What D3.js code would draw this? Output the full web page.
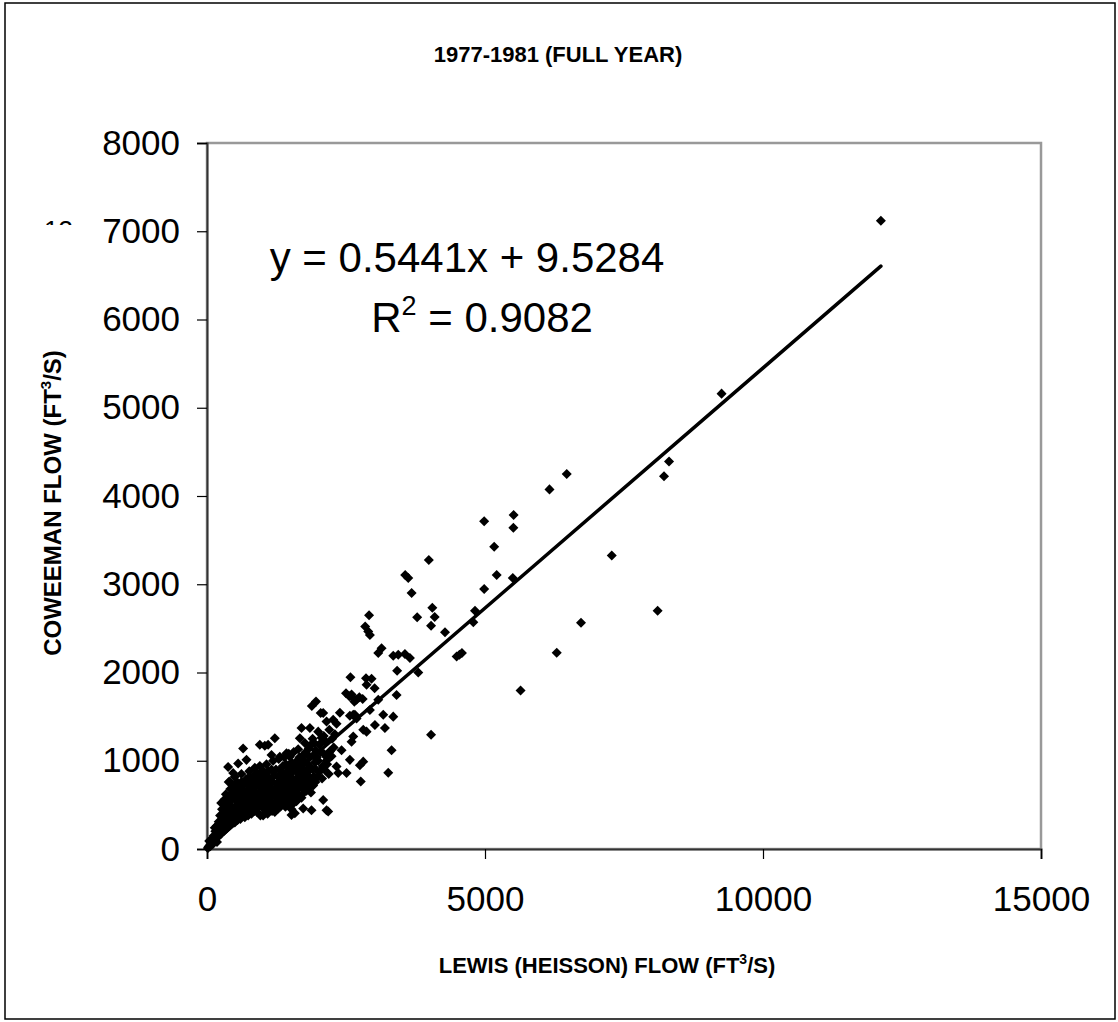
<!DOCTYPE html>
<html>
<head>
<meta charset="utf-8">
<script src="https://cdn.jsdelivr.net/npm/d3@7"></script>
<style>
  body { margin: 0; background: #fff; }
  text { font-family: "Liberation Sans", Arial, sans-serif; }
</style>
</head>
<body>
<svg id="chart" width="1118" height="1022"></svg>
<script>
// scatter of daily flows, Lewis vs Coweeman, 1977-1981
var title = "1977-1981 (FULL YEAR)";
var xTicks = [0, 5000, 10000, 15000];
var yTicks = [0, 1000, 2000, 3000, 4000, 5000, 6000, 7000, 8000];
var slope = 0.5441, intercept = 9.5284, rSquared = "0.9082";

// dense low-flow cluster [lewis, coweeman]
var clusterPoints = [
  [15,10],[30,25],[45,40],[60,30],[70,70],[85,55],[40,90],[95,120],
  [110,60],[120,150],[130,95],[150,200],[160,120],[175,260],[180,80],[140,240],
  [200,140],[210,310],[220,210],[235,380],[250,170],[260,270],[270,450],[280,330],[255,520],
  [300,200],[305,400],[315,560],[320,280],[335,480],[340,620],[350,230],[360,350],[370,530],[375,430],
  [400,260],[405,600],[415,380],[420,680],[430,490],[440,300],[450,560],[455,420],[465,720],[475,350],[480,640],
  [500,300],[505,480],[510,690],[520,580],[530,400],[540,760],[550,330],[555,530],[565,650],[575,450],[580,720],
  [600,340],[605,600],[615,480],[620,760],[630,390],[640,680],[650,550],[660,430],[670,740],[675,620],[680,360],
  [700,500],[705,790],[715,420],[720,660],[730,580],[740,380],[750,720],[760,470],[765,820],[775,640],[780,540],
  [800,400],[805,760],[815,600],[820,480],[830,690],[840,830],[850,430],[855,560],[865,760],[870,650],[880,500],
  [900,420],[905,860],[915,580],[920,720],[930,480],[940,800],[950,640],[960,380],[965,540],[975,700],[980,860],
  [1000,470],[1005,760],[1015,600],[1020,880],[1030,520],[1040,680],[1050,820],[1060,420],[1065,560],[1075,740],[1080,620],
  [1100,480],[1105,880],[1115,700],[1120,580],[1130,800],[1140,440],[1150,650],[1160,900],[1165,530],[1175,760],[1180,620],
  [1200,500],[1205,830],[1215,680],[1220,420],[1230,590],[1240,900],[1250,740],[1260,540],[1265,640],[1275,820],[1280,460],
  [1300,700],[1305,560],[1315,900],[1320,480],[1330,780],[1340,620],[1350,860],[1360,520],[1365,940],[1375,680],[1380,760],
  [1400,560],[1405,830],[1415,700],[1420,960],[1430,620],[1440,500],[1450,880],[1460,760],[1465,660],[1475,560],[1480,920],
  [1500,620],[1505,820],[1515,720],[1520,980],[1530,560],[1540,880],[1550,680],[1560,780],[1565,940],[1575,620],[1580,720],
  [1600,660],[1605,880],[1615,760],[1620,1000],[1630,620],[1640,820],[1650,940],[1660,700],[1665,1040],[1675,780],[1680,880],
  [1700,700],[1705,960],[1715,820],[1720,1060],[1730,760],[1740,900],[1750,1000],[1760,720],[1770,860],[1780,1100],
  [1800,780],[1810,960],[1820,880],[1830,1140],[1840,820],[1850,1040],[1860,920],[1870,1180],[1880,760],
  [1900,900],[1910,1060],[1920,820],[1930,1200],[1940,980],[1950,1120],[1960,900],[1975,1040],
  [2000,1000],[2020,1180],[2040,1100],[2060,1260],[2080,940],[2100,1080],[2130,1220],[2150,1000],
  [1760,1200],[1900,1250],[2000,1330],[2100,1280],[2200,1350],[2250,1250],[2300,1300],[2050,1200],
  [1520,450],[1560,520],[1610,540],[1650,600],[1700,580],[1745,640],[1790,660],[1830,700],[1870,640],
  [1910,720],[1950,760],[1990,820],[2030,880],[2070,800],[2110,900],[2160,960],[2200,1100],[2240,1050],
  [2280,1150],[2190,850],
  [1010,380],[1090,400],[1170,430],[1250,460],[1330,520],[1410,480],[1490,560],
  [950,940],[1070,960],[1190,1000],[1290,1020],[1390,1040],[1470,1080],[1560,1100],[1640,1130],
  [390,760],[500,820],[620,850],[760,880],[860,920]
];

// scattered higher-flow days
var outlierPoints = [
  [12120,7120],[9255,5160],[8310,4390],[8220,4225],[6470,4250],[6160,4075],
  [5515,3785],[5510,3640],[4985,3715],[5165,3425],[5210,3105],[5500,3070],[4985,2945],
  [7280,3325],[6727,2565],[8105,2700],[6290,2225],[5640,1795],[4820,2700],[4790,2570],
  [3990,3275],[3565,3105],[3620,3070],[3680,2900],
  [2915,2650],[2845,2520],[2900,2465],[2930,2425],
  [3780,2627],[4053,2735],[4095,2630],[4030,2530],[4281,2455],
  [4490,2180],[4540,2200],[4585,2220],[3800,2000],[4030,1295],
  [3140,2275],[3080,2220],[3350,2190],[3440,2200],[3560,2210],[3650,2165],
  [3420,2020],[3410,1745],
  [2580,1945],[2860,1935],[2960,1930],[2870,1860],[3015,1822],
  [2600,1750],[2630,1710],[2690,1690],[2740,1720],[2800,1700],[3080,1690],
  [2500,1765],[2560,1730],[2650,1670],
  [1960,1670],[1885,1620],[2045,1540],
  [2090,1540],[2150,1445],[2270,1465],[2330,1420],
  [2390,1545],[2570,1510],[2660,1520],
  [2630,1520],[2690,1480],[2930,1575],[2810,1350],[2870,1330],
  [3170,1520],[3350,1500],[3020,1405],[3200,1370],
  [2630,1275],[2600,1215],[3320,1120],
  [2570,1010],[2810,990],[2750,950],[2510,860],[3260,865],[2765,765],
  [2330,935],[2360,860],[2210,1105],[2150,1045],[2420,1120],
  [1700,1370],[1850,1370],[1670,1255],[1430,1085],[1490,1045],
  [1220,1255],[1160,1065],[1310,1045],[950,1180],[1040,1170],[1100,1180],
  [650,1140],[710,1010],[380,930],[470,860],[410,765],[560,970],
  [2090,555],[2150,440],[1730,460],[1880,440],[1520,385],[1580,405],[2180,425]
];

var svg = d3.select("#chart");

var x = d3.scaleLinear().domain([0, 15000]).range([207, 1041]);
var y = d3.scaleLinear().domain([0, 8000]).range([849, 143]);

// outer chart border
svg.append("rect")
    .attr("x", 5).attr("y", 3)
    .attr("width", 1110).attr("height", 1016)
    .attr("fill", "none").attr("stroke", "#000").attr("stroke-width", 1.5);

// plot area frame
svg.append("rect")
    .attr("x", x(0)).attr("y", y(8000))
    .attr("width", x(15000) - x(0)).attr("height", y(0) - y(8000))
    .attr("fill", "none").attr("stroke", "#999").attr("stroke-width", 2.5);

svg.append("text")
    .attr("x", 558).attr("y", 62)
    .attr("text-anchor", "middle")
    .style("font-size", "22px").style("font-weight", "bold")
    .text(title);

// stray clipped label fragment left of the axis
svg.append("clipPath").attr("id", "frag")
  .append("rect").attr("x", 30).attr("y", 212).attr("width", 60).attr("height", 13);
svg.append("text")
    .attr("x", 44).attr("y", 239)
    .attr("clip-path", "url(#frag)")
    .style("font-size", "26px")
    .text("13");

var yAxis = svg.append("g")
    .attr("transform", "translate(" + x(0) + ",0)")
    .call(d3.axisLeft(y).tickValues(yTicks).tickSize(10).tickPadding(17).tickFormat(d3.format("d")));
var xAxis = svg.append("g")
    .attr("transform", "translate(0," + y(0) + ")")
    .call(d3.axisBottom(x).tickValues(xTicks).tickSize(10).tickPadding(27).tickFormat(d3.format("d")));

[xAxis, yAxis].forEach(function(g) {
    g.select(".domain").attr("stroke", "#333").attr("stroke-width", 2);
    g.selectAll(".tick line").attr("stroke", "#000").attr("stroke-width", 1.2);
    g.selectAll(".tick text")
        .attr("fill", "#000")
        .style("font-family", "'Liberation Sans', Arial, sans-serif")
        .style("font-size", "35px");
});

// axis titles
var xt = svg.append("text")
    .attr("x", 607).attr("y", 973)
    .attr("text-anchor", "middle")
    .style("font-size", "22px").style("font-weight", "bold");
xt.append("tspan").text("LEWIS (HEISSON) FLOW (FT");
xt.append("tspan").attr("dy", -9).style("font-size", "14px").text("3");
xt.append("tspan").attr("dy", 9).text("/S)");

var yt = svg.append("text")
    .attr("transform", "translate(61,503) rotate(-90)")
    .attr("text-anchor", "middle")
    .style("font-size", "24px").style("font-weight", "bold");
yt.append("tspan").text("COWEEMAN FLOW (FT");
yt.append("tspan").attr("dy", -10).style("font-size", "15px").text("3");
yt.append("tspan").attr("dy", 10).text("/S)");

// points
var diamond = d3.symbol().type(d3.symbolDiamond2).size(64);
var allPoints = clusterPoints.concat(outlierPoints);
svg.append("g").selectAll("path")
    .data(allPoints)
  .enter().append("path")
    .attr("d", diamond)
    .attr("transform", function(d) { return "translate(" + x(d[0]) + "," + y(d[1]) + ")"; })
    .attr("fill", "#000");

// linear trendline across the data range
var xExtent = d3.extent(allPoints, function(d) { return d[0]; });
svg.append("line")
    .attr("x1", x(xExtent[0])).attr("y1", y(slope * xExtent[0] + intercept))
    .attr("x2", x(xExtent[1])).attr("y2", y(slope * xExtent[1] + intercept))
    .attr("stroke", "#000").attr("stroke-width", 3.5).attr("stroke-linecap", "round");

// equation label
svg.append("text")
    .attr("x", 467).attr("y", 272)
    .attr("text-anchor", "middle")
    .style("font-size", "42px")
    .text("y = " + slope + "x + " + intercept);
var r2 = svg.append("text")
    .attr("x", 482).attr("y", 332)
    .attr("text-anchor", "middle")
    .style("font-size", "42px");
r2.append("tspan").text("R");
r2.append("tspan").attr("dy", -17).style("font-size", "27px").text("2");
r2.append("tspan").attr("dy", 17).text(" = " + rSquared);
</script>
</body>
</html>
